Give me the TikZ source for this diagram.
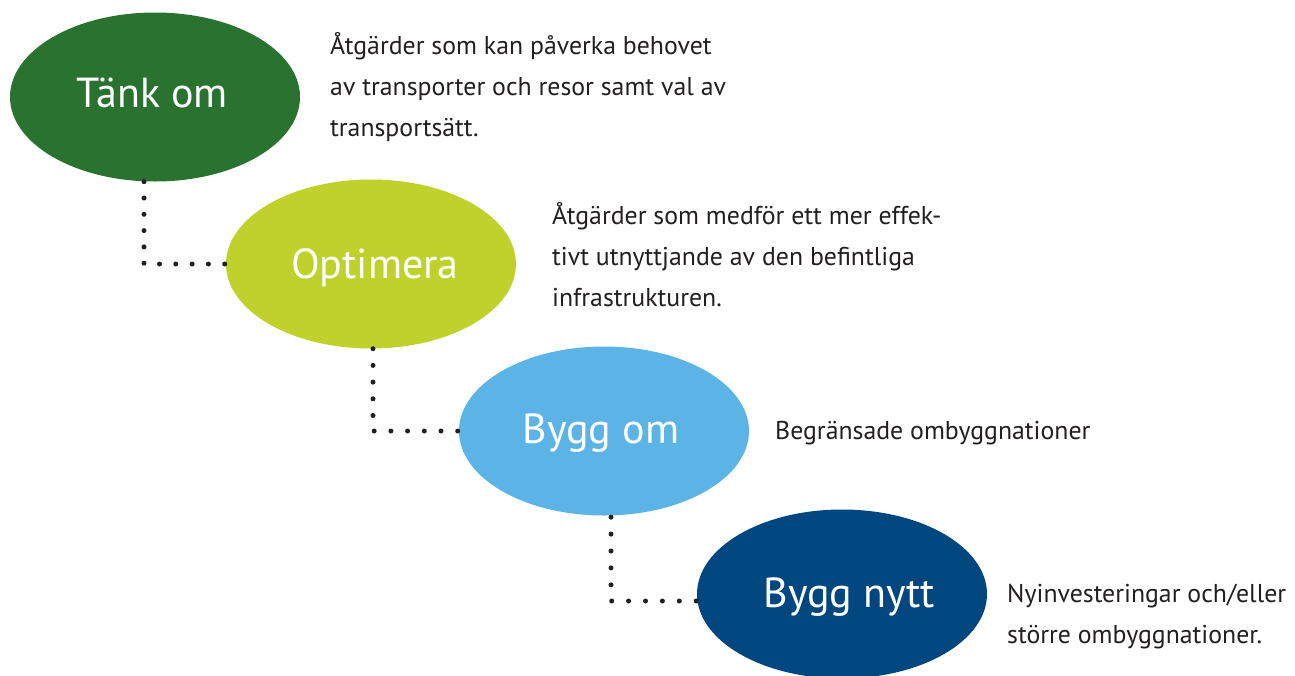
\documentclass[tikz,border=0pt]{standalone}
\usepackage{fontspec}
\setmainfont{PT Sans}
\usetikzlibrary{shapes.geometric,calc}
\definecolor{cgreen}{HTML}{2A7230}
\definecolor{clime}{HTML}{BFD22B}
\definecolor{clight}{HTML}{5BB4E5}
\definecolor{cnavy}{HTML}{00467F}
\definecolor{ctext}{HTML}{231F20}
\tikzset{
  blob/.style={ellipse, minimum width=290pt, minimum height=169pt, inner sep=0pt, draw=none},
  biglabel/.style={text=white, font=\fontsize{42}{50}\selectfont, anchor=base, inner sep=0pt},
  desc/.style={text=ctext, font=\fontsize{25.8}{41}\selectfont, anchor=base west, inner sep=0pt},
  dotline/.style={ctext, line width=5pt, line cap=round, dash pattern=on 0pt off #1},
}
\begin{document}
\begin{tikzpicture}[x=1pt,y=-1pt]
\useasboundingbox (0,0) rectangle (1295,675);
% ellipses
\node[blob, fill=cgreen] (t) at (155,97) {};
\node[blob, fill=clime] (o) at (371,264) {};
\node[blob, fill=clight] (b) at (604,431) {};
\node[blob, fill=cnavy] (n) at (842,594) {};
% connectors
\draw[dotline=16.3pt] (t.south -| 144,0) |- (o.west);
\draw[dotline=16.7pt] (o.south -| 373,0) |- (b.west);
\coordinate (nin) at ($(n.west)+(1,7)$);
\draw[dotline=16.9pt] ($(b.south -| 611,0)+(0,1.5)$) |- (nin);
% labels
\node[biglabel] (tl) at (152,107) {Tänk om};
\node[biglabel] (ol) at (375,278) {Optimera};
\node[biglabel] (bl) at (601,443) {Bygg om};
\node[biglabel] (nl) at (849,607) {Bygg nytt};
% descriptions
\node[desc] (td) at (330,54) {\vtop{\hbox{Åtgärder som kan påverka behovet}\hbox{av transporter och resor samt val av}\hbox{transportsätt.}}};
\node[desc] (od) at (552,224) {\vtop{\hbox{Åtgärder som medför ett mer effek-}\hbox{tivt utnyttjande av den befintliga}\hbox{infrastrukturen.}}};
\node[desc] (bd) at (775,439) {Begränsade ombyggnationer};
\node[desc] (nd) at (1007,602) {\vtop{\hbox{Nyinvesteringar och/eller}\hbox{större ombyggnationer.}}};
\end{tikzpicture}
\end{document}
